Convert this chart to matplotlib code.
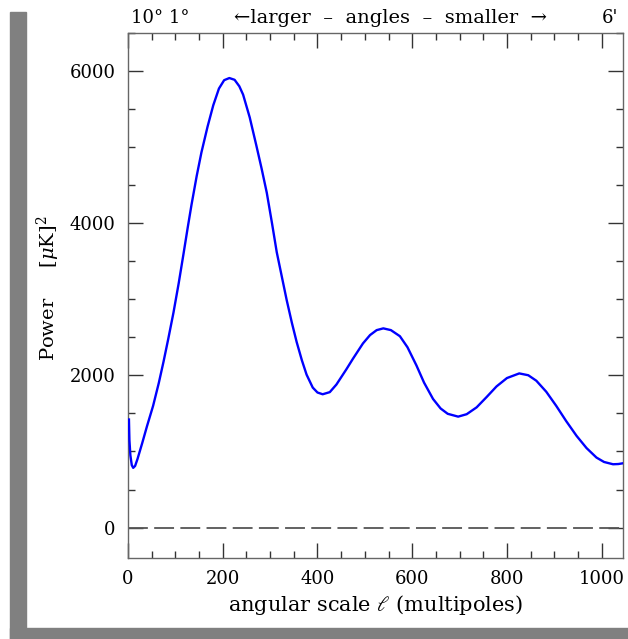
import matplotlib
matplotlib.use("Agg")
import matplotlib.pyplot as plt
from matplotlib.patches import Rectangle
from matplotlib.ticker import MultipleLocator

plt.rcParams['font.family'] = ['DejaVu Serif']
plt.rcParams['mathtext.fontset'] = 'dejavuserif'
plt.rcParams['axes.unicode_minus'] = False

# multipole l and power [uK]^2
ell = [2, 3, 5, 8, 11, 15, 20, 30, 40, 53, 65, 75, 85, 96, 107, 117, 126, 134,
       145, 155, 168, 180, 192, 203, 214, 225, 235, 243, 257, 271, 282, 293,
       304, 314, 325, 335, 346, 356, 367, 377, 390, 400, 411, 426, 440, 461,
       475, 496, 511, 525, 539, 555, 574, 590, 609, 625, 644, 660, 675, 697,
       715, 736, 757, 778, 800, 826, 845, 862, 883, 904, 925, 947, 968, 989,
       1005, 1024, 1035, 1048]
power = [1420, 1150, 950, 820, 785, 810, 900, 1110, 1330, 1600, 1900, 2180,
         2480, 2825, 3210, 3590, 3940, 4240, 4620, 4930, 5270, 5550, 5770,
         5880, 5908, 5885, 5800, 5690, 5390, 5020, 4720, 4400, 4000, 3620,
         3290, 2990, 2690, 2440, 2200, 2010, 1840, 1775, 1752, 1780, 1880,
         2080, 2220, 2420, 2530, 2595, 2618, 2595, 2515, 2370, 2130, 1905,
         1690, 1565, 1495, 1458, 1490, 1580, 1715, 1855, 1965, 2026, 2002,
         1930, 1785, 1600, 1400, 1205, 1045, 920, 862, 832, 835, 848]

x_ticks = [0, 200, 400, 600, 800, 1000]
y_ticks = [0, 2000, 4000, 6000]

W, H = 628, 639
fig = plt.figure(figsize=(W / 100, H / 100), dpi=100)
fig.patch.set_facecolor('white')

# gray drop-shadow frame
fig.patches.append(Rectangle((10 / W, 0), 16 / W, (H - 12) / H,
                             transform=fig.transFigure, color='#808080', zorder=0))
fig.patches.append(Rectangle((10 / W, 0), (W - 10) / W, 11 / H,
                             transform=fig.transFigure, color='#808080', zorder=0))

ax = fig.add_axes([128 / W, (H - 558) / H, (623 - 128) / W, (558 - 33) / H])
ax.plot(ell, power, color='#0000ff', lw=1.7, zorder=3, solid_joinstyle='round')
ax.axhline(0, color='#555555', lw=1.3, dashes=(11, 3.5), zorder=2)

ax.set_xlim(0, 1045)
ax.set_ylim(-400, 6500)
ax.set_xticks(x_ticks)
ax.set_yticks(y_ticks)
ax.xaxis.set_minor_locator(MultipleLocator(50))
ax.yaxis.set_minor_locator(MultipleLocator(500))
ax.tick_params(which='both', direction='in', top=True, right=True,
               color='#333333', width=1.0, labelsize=13, pad=9)
ax.tick_params(which='major', length=11)
ax.tick_params(which='minor', length=5)
for s in ax.spines.values():
    s.set_color('#666666')
    s.set_linewidth(1.0)

ax.set_xlabel(r'angular scale $\ell$ (multipoles)', fontsize=15)
ax.xaxis.set_label_coords(0.5, -(605 - 558) / 525)
ax.set_ylabel(r'Power     $[\mu$K$]^2$', fontsize=14)
ax.yaxis.set_label_coords(-(128 - 48) / 495, (558 - 288) / 525)
ax.xaxis.label.set_va('center')
ax.yaxis.label.set_va('center')

fig.text(131 / W, 1 - 18 / H, '10° 1°', fontsize=13, va='center', ha='left')
fig.text(391 / W, 1 - 18 / H, '←larger  –  angles  –  smaller  →',
         fontsize=14, va='center', ha='center')
fig.text(618 / W, 1 - 18 / H, "6'", fontsize=13, va='center', ha='right')

fig.savefig('out.png', dpi=100)
